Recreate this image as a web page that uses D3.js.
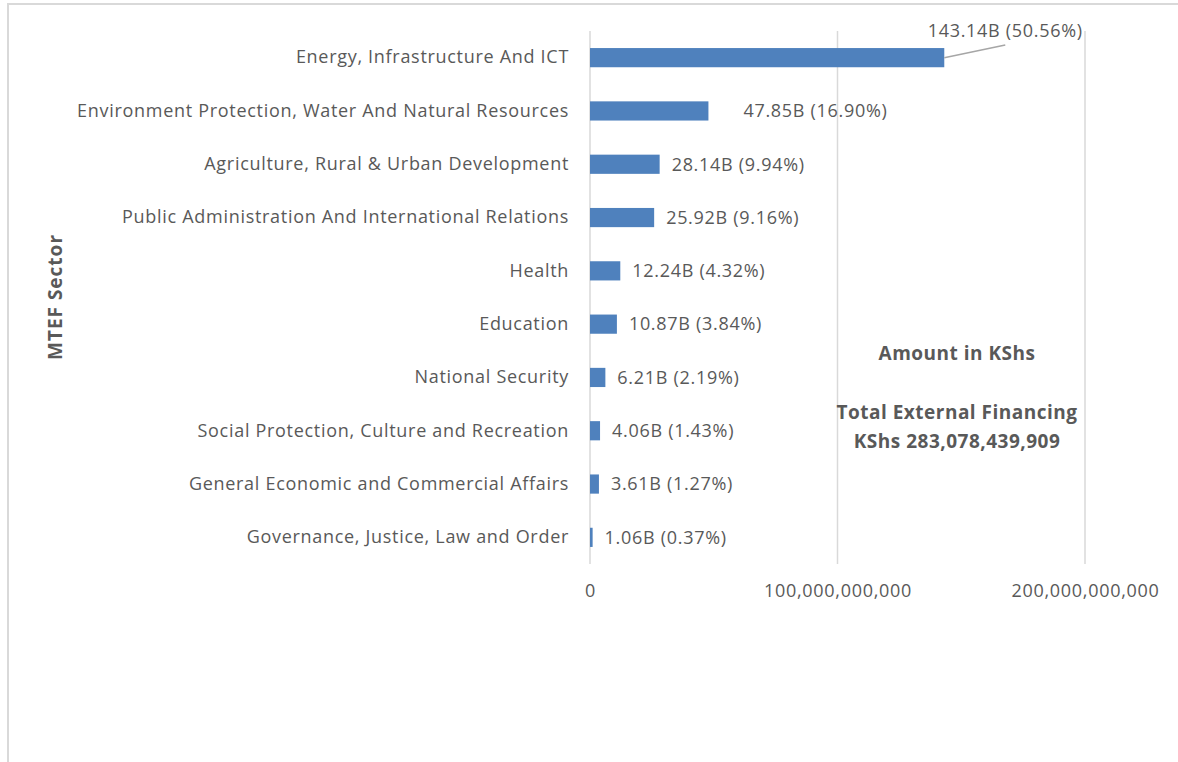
<!DOCTYPE html>
<html>
<head>
<meta charset="utf-8">
<script src="https://cdn.jsdelivr.net/npm/d3@7"></script>
<style>
  body { margin: 0; background: #fff; }
  text { font-family: "Open Sans", "Noto Sans", sans-serif; fill: #595959; }
</style>
</head>
<body>
<script>
// Sector names, top to bottom
var sectors = [
	"Energy, Infrastructure And ICT",
	"Environment Protection, Water And Natural Resources",
	"Agriculture, Rural & Urban Development",
	"Public Administration And International Relations",
	"Health",
	"Education",
	"National Security",
	"Social Protection, Culture and Recreation",
	"General Economic and Commercial Affairs",
	"Governance, Justice, Law and Order"
];

// Amount in billions of KShs
var amounts = [143.14, 47.85, 28.14, 25.92, 12.24, 10.87, 6.21, 4.06, 3.61, 1.06];

// Share of the total, percent
var shares = [50.56, 16.90, 9.94, 9.16, 4.32, 3.84, 2.19, 1.43, 1.27, 0.37];

var xTicks = [0, 100e9, 200e9];

var width = 1178, height = 762;
var margin = {top: 31, left: 590, right: 93, bottom: 198};
var plot_w = width - margin.left - margin.right;
var plot_h = height - margin.top - margin.bottom;

var svg = d3.select("body").append("svg")
	.attr("width", width)
	.attr("height", height);

// chart border (runs off the picture on right and bottom)
svg.append("rect")
	.attr("x", 8).attr("y", 4)
	.attr("width", width + 20).attr("height", height + 20)
	.attr("fill", "none")
	.attr("stroke", "#d9d9d9")
	.attr("stroke-width", 2);

var g = svg.append("g")
	.attr("transform", "translate(" + margin.left + "," + margin.top + ")");

var xScale = d3.scaleLinear()
	.domain([0, 200e9])
	.range([0, 495]);

var yScale = d3.scaleBand()
	.domain(sectors)
	.range([0, plot_h])
	.paddingInner(0.64)
	.paddingOuter(0.32);

// gridlines
g.selectAll("line.grid")
	.data(xTicks)
	.enter()
	.append("line")
	.attr("class", "grid")
	.attr("x1", function(d) { return xScale(d); })
	.attr("x2", function(d) { return xScale(d); })
	.attr("y1", 0)
	.attr("y2", plot_h)
	.attr("stroke", "#d9d9d9")
	.attr("stroke-width", 1.5);

function styleText(sel) {
	sel.style("font-size", "18px")
		.style("letter-spacing", "0.7px")
		.attr("fill", "#595959")
		.style("font-family", "'Open Sans', sans-serif");
}

// x axis labels
var xAxis = d3.axisBottom(xScale)
	.tickValues(xTicks)
	.tickSize(0)
	.tickPadding(20)
	.tickFormat(d3.format(",.0f"));

g.append("g")
	.attr("transform", "translate(0," + plot_h + ")")
	.call(xAxis)
	.call(function(a) {
		a.select(".domain").remove();
		a.selectAll("text").call(styleText);
	});

// y axis labels
var yAxis = d3.axisLeft(yScale)
	.tickSize(0)
	.tickPadding(21);

g.append("g")
	.call(yAxis)
	.call(function(a) {
		a.select(".domain").remove();
		a.selectAll("text").call(styleText);
	});

// bars
var rows = sectors.map(function(s, i) {
	return {sector: s, amount: amounts[i] * 1e9, share: shares[i]};
});

g.selectAll("rect.bar")
	.data(rows)
	.enter()
	.append("rect")
	.attr("class", "bar")
	.attr("x", 0)
	.attr("y", function(d) { return yScale(d.sector); })
	.attr("width", function(d) { return xScale(d.amount); })
	.attr("height", yScale.bandwidth())
	.attr("fill", "#4f81bd");

function labelText(d) {
	return (d.amount / 1e9).toFixed(2) + "B (" + d.share.toFixed(2) + "%)";
}

// data labels; the first one sits above with a leader line, the second is pushed right
g.selectAll("text.lbl")
	.data(rows)
	.enter()
	.append("text")
	.attr("class", "lbl")
	.attr("x", function(d, i) {
		if (i == 0) return xScale(d.amount) + 61;
		if (i == 1) return xScale(d.amount) + 35;
		return xScale(d.amount) + 12;
	})
	.attr("y", function(d, i) {
		if (i == 0) return 0;
		return yScale(d.sector) + yScale.bandwidth() / 2;
	})
	.attr("dy", "0.35em")
	.attr("text-anchor", function(d, i) { return i == 0 ? "middle" : "start"; })
	.call(styleText)
	.text(labelText);

var first = rows[0];
g.append("line")
	.attr("x1", xScale(first.amount))
	.attr("y1", yScale(first.sector) + yScale.bandwidth() / 2)
	.attr("x2", xScale(first.amount) + 61)
	.attr("y2", 14)
	.attr("stroke", "#a6a6a6")
	.attr("stroke-width", 1.5);

// y axis title
svg.append("text")
	.attr("transform", "translate(62,297) rotate(-90)")
	.attr("text-anchor", "middle")
	.style("font-size", "19px")
	.style("letter-spacing", "1px")
	.style("font-weight", "bold")
	.text("MTEF Sector");

// note box
var note = svg.append("g")
	.attr("text-anchor", "middle")
	.style("font-size", "19px")
	.style("letter-spacing", "0.5px")
	.style("font-weight", "bold");
note.append("text").attr("x", 957).attr("y", 360).text("Amount in KShs");
note.append("text").attr("x", 957).attr("y", 419).text("Total External Financing");
note.append("text").attr("x", 957).attr("y", 448).text("KShs 283,078,439,909");
</script>
</body>
</html>
